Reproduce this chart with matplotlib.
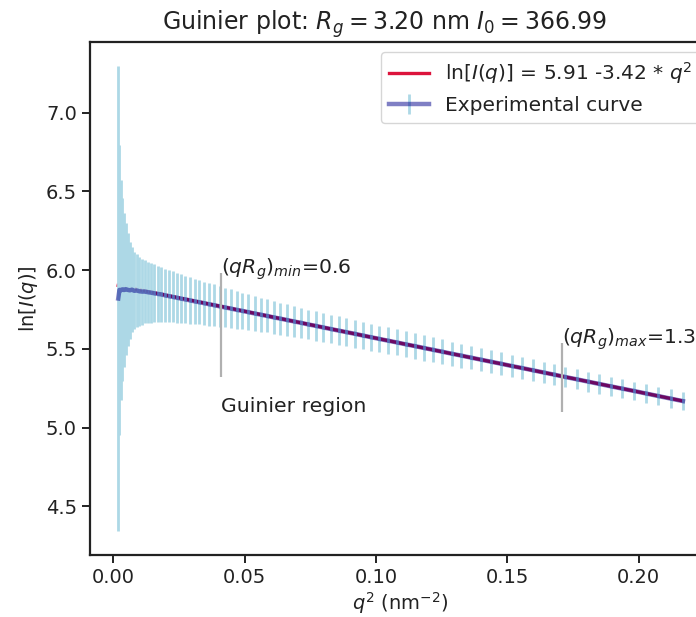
import matplotlib
matplotlib.use("Agg")
import matplotlib.pyplot as plt

# q^2 values (nm^-2)
q2 = [0.00194, 0.00241, 0.00293, 0.00351, 0.00414, 0.00482, 0.00555, 0.00633,
      0.00716, 0.00805, 0.00899, 0.00998, 0.01102, 0.01211, 0.01325, 0.01445,
      0.01570, 0.01699, 0.01834, 0.01975, 0.02120, 0.02270, 0.02426, 0.02587,
      0.02753, 0.02924, 0.03100, 0.03282, 0.03469, 0.03660, 0.03857, 0.04059,
      0.04267, 0.04479, 0.04697, 0.04920, 0.05148, 0.05381, 0.05619, 0.05862,
      0.06111, 0.06365, 0.06623, 0.06888, 0.07157, 0.07431, 0.07711, 0.07995,
      0.08285, 0.08580, 0.08880, 0.09186, 0.09496, 0.09812, 0.10133, 0.10459,
      0.10790, 0.11126, 0.11468, 0.11814, 0.12166, 0.12523, 0.12885, 0.13253,
      0.13625, 0.14003, 0.14385, 0.14773, 0.15166, 0.15565, 0.15968, 0.16377,
      0.16790, 0.17209, 0.17633, 0.18063, 0.18497, 0.18936, 0.19381, 0.19831,
      0.20286, 0.20746, 0.21212, 0.21682]

# ln[I(q)] experimental values
ln_I = [5.820, 5.875, 5.872, 5.878, 5.874, 5.879, 5.875, 5.872,
        5.876, 5.869, 5.871, 5.866, 5.864, 5.864, 5.860, 5.857,
        5.853, 5.849, 5.846, 5.840, 5.835, 5.830, 5.825, 5.819,
        5.814, 5.808, 5.802, 5.796, 5.790, 5.783, 5.777, 5.770,
        5.763, 5.756, 5.748, 5.741, 5.733, 5.725, 5.717, 5.709,
        5.700, 5.692, 5.683, 5.674, 5.665, 5.655, 5.646, 5.636,
        5.626, 5.616, 5.606, 5.596, 5.585, 5.574, 5.563, 5.552,
        5.541, 5.529, 5.518, 5.506, 5.494, 5.482, 5.469, 5.457,
        5.444, 5.431, 5.418, 5.405, 5.391, 5.378, 5.364, 5.350,
        5.336, 5.321, 5.307, 5.292, 5.277, 5.262, 5.247, 5.232,
        5.216, 5.200, 5.184, 5.168]

# error bar half-widths
err = [1.48, 0.92, 0.70, 0.58, 0.49, 0.42, 0.36, 0.31,
       0.27, 0.245, 0.23, 0.22, 0.21, 0.20, 0.195, 0.19,
       0.185, 0.18, 0.175, 0.17, 0.166, 0.162, 0.158, 0.154,
       0.150, 0.147, 0.144, 0.141, 0.138, 0.135, 0.132, 0.129,
       0.126, 0.123, 0.120, 0.117, 0.114, 0.111, 0.108, 0.105,
       0.103, 0.101, 0.099, 0.097, 0.095, 0.094, 0.093, 0.092,
       0.091, 0.090, 0.089, 0.088, 0.087, 0.086, 0.085, 0.084,
       0.083, 0.082, 0.081, 0.080, 0.079, 0.078, 0.077, 0.076,
       0.075, 0.074, 0.073, 0.072, 0.071, 0.070, 0.069, 0.068,
       0.067, 0.066, 0.065, 0.064, 0.063, 0.062, 0.061, 0.060,
       0.059, 0.058, 0.058, 0.057]

# Guinier fit
intercept = 5.91
slope = -3.42
fit_x = [q2[0], q2[-1]]
fit_y = [intercept + slope * x for x in fit_x]

# Guinier region markers
q2_min, q2_max = 0.041, 0.1707
min_line = [5.32, 5.98]
max_line = [5.10, 5.54]

fig = plt.figure(figsize=(6.96, 6.17), dpi=100)
ax = fig.add_axes([90/696, 1-555/617, 621/696, 513/617])

ax.plot(fit_x, fit_y, color='crimson', lw=2.4,
        label='ln[$I(q)$] = 5.91 -3.42 * $q^2$', zorder=3)
ax.errorbar(q2, ln_I, yerr=err, color=(0, 0, 0.545, 0.5), lw=3.2,
            ecolor='lightblue', elinewidth=2, label='Experimental curve',
            zorder=4)

ax.vlines(q2_min, min_line[0], min_line[1], color='#b0b0b0', lw=1.6, zorder=5)
ax.vlines(q2_max, max_line[0], max_line[1], color='#b0b0b0', lw=1.6, zorder=5)
ax.text(q2_min, min_line[1] - 0.055, '$(qR_g)_{min}$=0.6', fontsize=14.7,
        ha='left', va='bottom', color='#222222')
ax.text(q2_max, max_line[1] - 0.06, '$(qR_g)_{max}$=1.3', fontsize=14.7,
        ha='left', va='bottom', color='#222222')
ax.text(q2_min, 5.135, 'Guinier region', fontsize=14.7, ha='left',
        va='center', color='#222222')

ax.set_xlim(-0.0088, 0.2275)
ax.set_ylim(4.19, 7.45)
ax.set_xticks([0.0, 0.05, 0.10, 0.15, 0.20])
ax.set_yticks([4.5, 5.0, 5.5, 6.0, 6.5, 7.0])
ax.tick_params(labelsize=14, width=1.4, length=6, colors='#222222')
for s in ax.spines.values():
    s.set_linewidth(1.6)
    s.set_color('#222222')
ax.set_xlabel('$q^2$ (nm$^{-2}$)', fontsize=14, color='#222222', labelpad=2)
ax.set_ylabel('ln[$I(q)$]', fontsize=14, color='#222222')
ax.set_title('Guinier plot: $R_g = 3.20$ nm $I_0 = 366.99$', fontsize=17,
             color='#222222', x=0.475, pad=9)
leg = ax.legend(loc='upper right', fontsize=14.5)
for t in leg.get_texts():
    t.set_color('#222222')

fig.savefig('out.png', dpi=100)
